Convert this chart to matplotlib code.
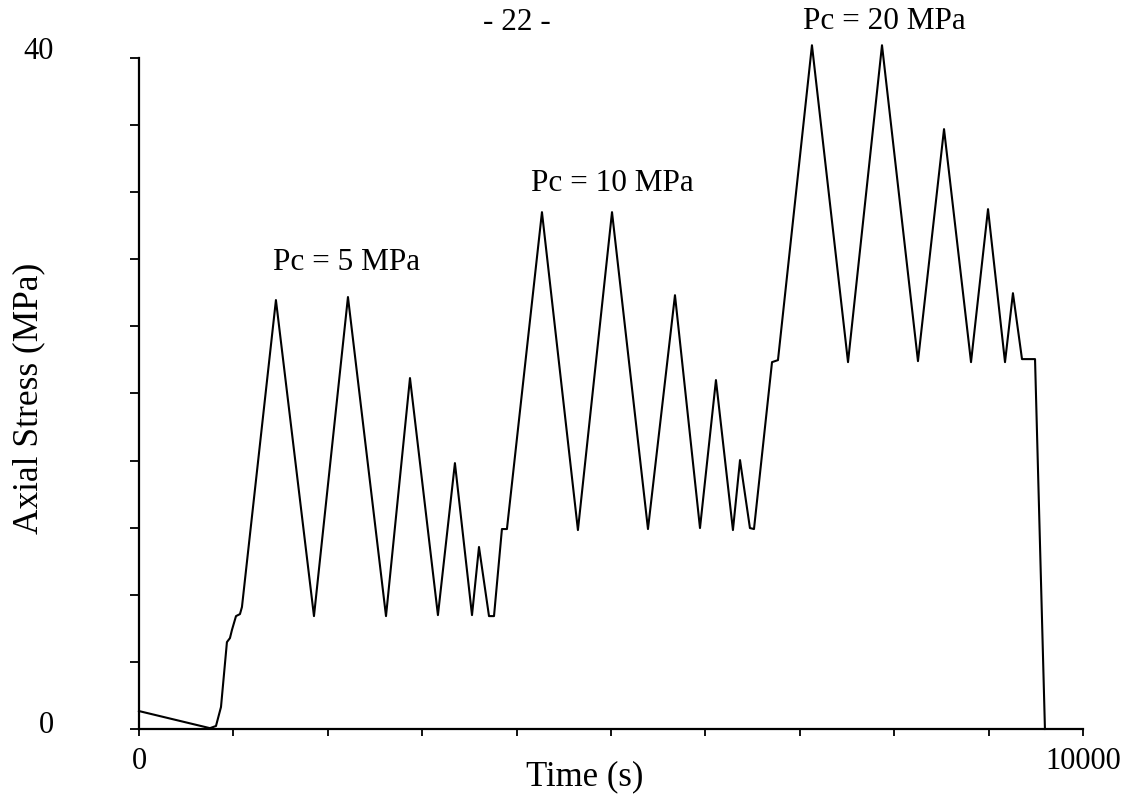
import numpy as np
import matplotlib
matplotlib.use('Agg')
import matplotlib.pyplot as plt
import matplotlib.transforms as mtransforms

plt.rcParams['font.family'] = ['Liberation Serif', 'DejaVu Serif']

# time (s) and axial stress (MPa)
time_s = [0, 752, 816, 869, 932, 964, 985, 1028, 1070, 1091,
          1451, 1854, 2214, 2617, 2871, 3167, 3347, 3528, 3602, 3708,
          3761, 3845, 3898, 4269, 4650, 5011, 5392, 5678, 5943, 6112,
          6292, 6367, 6472, 6515, 6706, 6769, 7129, 7511, 7871, 8252,
          8528, 8814, 8994, 9174, 9258, 9354, 9492, 9597]
stress = [1.07, 0.05, 0.18, 1.31, 5.18, 5.42, 5.90, 6.73, 6.85, 7.27,
          25.57, 6.73, 25.75, 6.73, 20.92, 6.79, 15.85, 6.79, 10.85, 6.73,
          6.73, 11.92, 11.92, 30.81, 11.86, 30.81, 11.92, 25.86, 11.98, 20.80,
          11.86, 16.03, 11.98, 11.92, 21.87, 21.99, 40.76, 21.87, 40.76, 21.93,
          35.76, 21.87, 30.99, 21.87, 25.98, 22.05, 22.05, 0.0]

pc_labels = ['Pc = 5 MPa', 'Pc = 10 MPa', 'Pc = 20 MPa']
pc_x = [2200, 5020, 7900]
pc_y = [27.8, 32.5, 42.2]

fig = plt.figure(figsize=(11.26, 8), dpi=100)
ax = fig.add_axes([0.1234, 0.08875, 0.8384, 0.83875])

ax.plot(time_s, stress, color='black', lw=1.5, clip_on=False)

ax.set_xlim(0, 10000)
ax.set_ylim(0, 40)
ax.spines['top'].set_visible(False)
ax.spines['right'].set_visible(False)
ax.spines['left'].set_linewidth(1.6)
ax.spines['bottom'].set_linewidth(1.6)

xt = np.arange(0, 10001, 1000)
yt = np.arange(0, 41, 4)
ax.set_xticks(xt)
ax.set_xticklabels(['0'] + [''] * 9 + ['10000'])
ax.set_yticks(yt)
ax.set_yticklabels(['0'] + [''] * 9 + ['40'])
ax.tick_params(axis='x', direction='out', length=5, width=1.3, pad=8, labelsize=22)
ax.tick_params(axis='y', direction='out', length=6.5, width=1.3, pad=55, labelsize=22)

# the scanned labels sit a little above their ticks
ylabs = ax.get_yticklabels()
ylabs[0].set_transform(ylabs[0].get_transform()
                       + mtransforms.ScaledTranslation(0, 7 / 100, fig.dpi_scale_trans))
ylabs[-1].set_transform(ylabs[-1].get_transform()
                        + mtransforms.ScaledTranslation(0, 10 / 100, fig.dpi_scale_trans))

for lab, px, py in zip(pc_labels, pc_x, pc_y):
    ax.text(px, py, lab, ha='center', va='center', fontsize=22.5)

fig.text(517 / 1126, 1 - 22 / 800, '- 22 -', ha='center', va='center', fontsize=22.5)
fig.text(585 / 1126, 1 - 777 / 800, 'Time (s)', ha='center', va='center', fontsize=25)
fig.text(29 / 1126, 1 - 398 / 800, 'Axial Stress (MPa)', ha='center', va='center',
         rotation=90, fontsize=25.5)

fig.savefig('out.png', dpi=100)
